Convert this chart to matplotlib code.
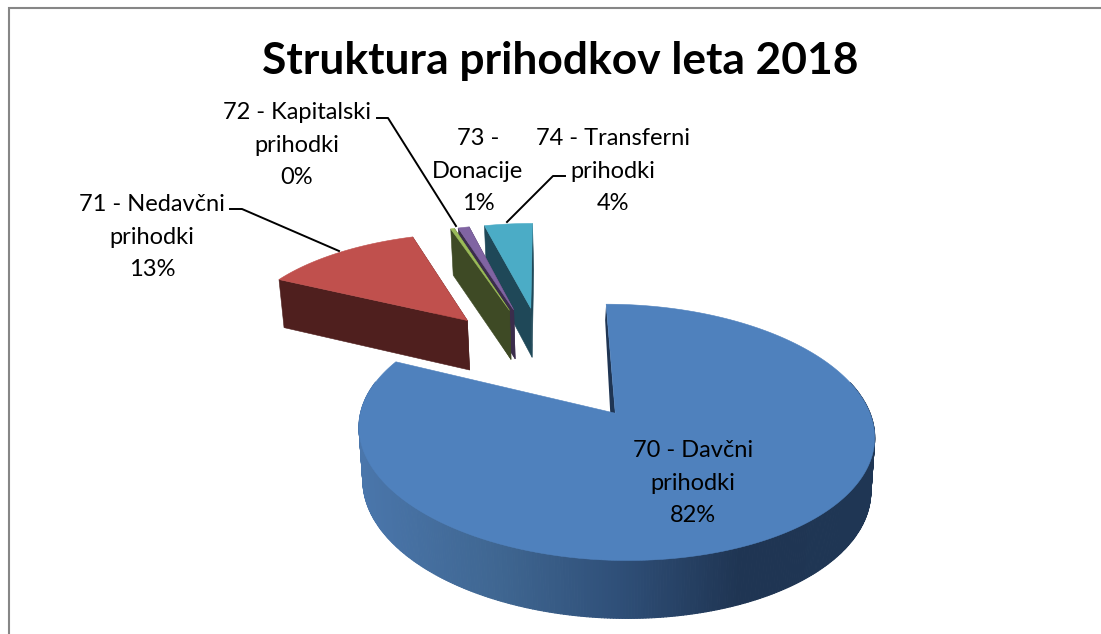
import numpy as np
import matplotlib
matplotlib.use("Agg")
import matplotlib.pyplot as plt
from matplotlib.collections import PolyCollection
from matplotlib.colors import to_rgb

# Data
values = [82.2, 12.7, 0.3, 0.9, 3.9]
names = ["70 - Davčni\nprihodki", "71 - Nedavčni\nprihodki", "72 - Kapitalski\nprihodki", "73 -\nDonacije", "74 - Transferni\nprihodki"]
percents = ["82%", "13%", "0%", "1%", "4%"]
title = "Struktura prihodkov leta 2018"

top_colors = ["#4f81bd", "#c0504d", "#9bbb59", "#8064a2", "#4bacc6"]
cut_colors = ["#1f3553", "#4f1f1e", "#3e4a25", "#3b2d4c", "#1f4858"]

# fake 3d pie: plane to screen (pixels)
EXPLODE = 0.52
K = 0.14
X0, Y0 = 545, 361.4
A, B = 239, 110.3


def top_xy(x, z):
    w = 1 + K * z
    return X0 + A * x / w, Y0 - B * z / w


def bottom_xy(X, Y):
    return 616 + 0.985 * (X - 616), Y + 46 + 0.035 * (Y - 220)


def arc(cx, cz, t0, t1):
    n = max(int(abs(t1 - t0) / 0.01), 2)
    t = np.linspace(t0, t1, n)
    return top_xy(cx + np.sin(t), cz + np.cos(t)), t


fig = plt.figure(figsize=(11.01, 6.34), dpi=100)
ax = fig.add_axes([0, 0, 1, 1])
ax.set_xlim(0, 1101)
ax.set_ylim(634, 0)
ax.axis("off")

# chart border, right and bottom edges are cut off
ax.plot([9, 9, 1101], [634, 8, 8], color="#868686", lw=1.5, solid_joinstyle="miter")

ends = np.cumsum(values) / np.sum(values) * 2 * np.pi
starts = ends - np.array(values) / np.sum(values) * 2 * np.pi
mids = (starts + ends) / 2
cxs = EXPLODE * np.sin(mids)
czs = EXPLODE * np.cos(mids)

rim_x = [360, 500, 620, 740, 875]
rim_c = np.array([to_rgb(c) for c in ["#4a76ab", "#3f6691", "#2f4f78", "#1f3553", "#1f3654"]])

# back to front
for i in np.argsort(-czs):
    (X, Y), t = arc(cxs[i], czs[i], starts[i], ends[i])
    ax_, ay_ = top_xy(cxs[i], czs[i])
    BX, BY = bottom_xy(X, Y)
    bax, bay = bottom_xy(ax_, ay_)

    # outer rim, only the wedge that faces the viewer
    if i == 0:
        quads, cols = [], []
        for j in range(len(t) - 1):
            if np.radians(75) < t[j] < np.radians(285):
                quads.append([(X[j], Y[j]), (X[j + 1], Y[j + 1]), (BX[j + 1], BY[j + 1]), (BX[j], BY[j])])
                cols.append([np.interp(X[j], rim_x, rim_c[:, c]) for c in range(3)])
        ax.add_collection(PolyCollection(quads, facecolors=cols, edgecolors=cols, linewidths=0.8))
        # thin dark sliver at the 12 o'clock cut
        ax.fill([X[0], ax_, ax_ - 5, X[0] - 1], [Y[0], ay_, ay_, Y[0] + 16], color=cut_colors[i], lw=0)
    else:
        # cut faces
        ax.fill([X[0], ax_, bax, BX[0]], [Y[0], ay_, bay, BY[0]], color=cut_colors[i], lw=0.4)
        ax.fill([X[-1], ax_, bax, BX[-1]], [Y[-1], ay_, bay, BY[-1]], color=cut_colors[i], lw=0.4)

    ax.fill(np.r_[ax_, X], np.r_[ay_, Y], color=top_colors[i], lw=0.4)

# leader lines
ax.plot([230, 242, 339], [209, 209, 251], color="black", lw=1.4)
ax.plot([377, 388, 456], [118, 118, 226], color="black", lw=1.4)
ax.plot([565, 553, 507], [176, 176, 222], color="black", lw=1.4)

# labels
label_xy = [(693, 483), (152, 237), (297, 145), (478, 171), (613, 171)]
for name, pct, (lx, ly) in zip(names, percents, label_xy):
    ax.text(lx, ly, name + "\n" + pct, ha="center", va="center", fontsize=17,
            family="Lato", color="black", linespacing=1.66)

ax.text(560, 61, title, ha="center", va="center", fontsize=31.9, family="Lato", fontweight="bold", color="black")

fig.savefig("out.png", dpi=100)
